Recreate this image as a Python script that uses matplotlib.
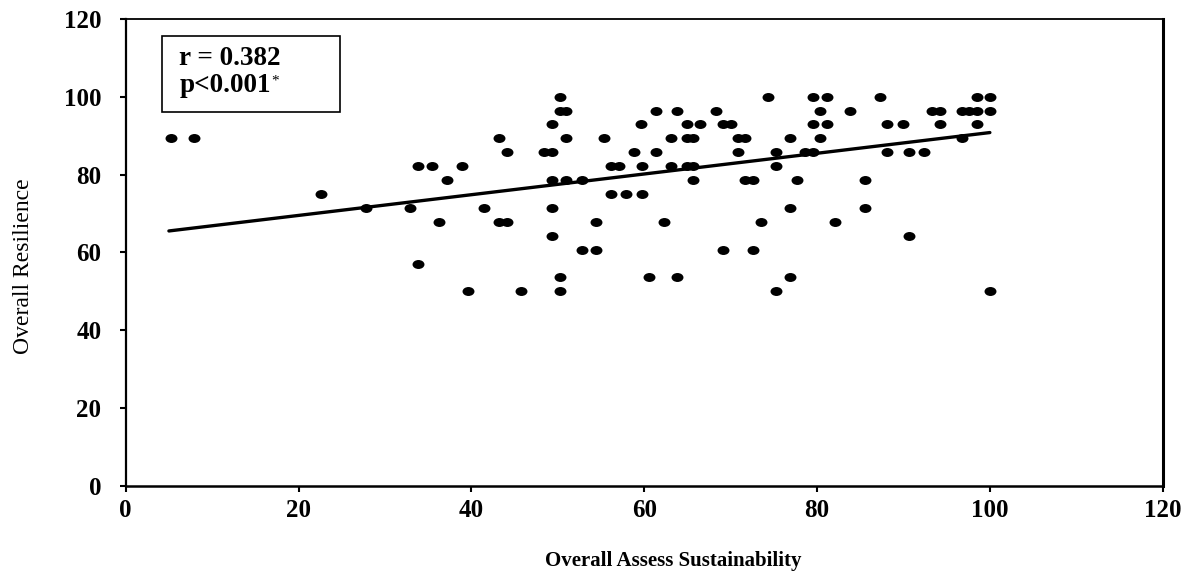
import matplotlib
matplotlib.use("Agg")
import matplotlib.pyplot as plt
import numpy as np
from matplotlib.path import Path
from matplotlib.patches import Rectangle

# ---- data ----
sustainability = [
    5.2, 7.9, 22.6, 27.8, 32.9, 33.8, 35.5, 38.9, 37.2, 36.3, 33.8, 39.6,
    41.5, 43.2, 44.1, 43.2, 44.1, 45.8, 50.2, 50.2, 51.0, 49.3, 51.0, 48.4,
    49.3, 49.3, 51.0, 52.8, 49.3, 49.3, 50.2, 50.2, 55.3, 56.2, 57.1, 56.2,
    57.9, 59.7, 54.4, 52.8, 54.4, 59.6, 58.8, 59.7, 61.4, 61.4, 63.1, 63.1,
    62.3, 60.5, 63.8, 63.8, 68.3, 64.9, 66.5, 69.1, 70.1, 64.9, 65.7, 70.9,
    71.7, 70.9, 64.9, 65.7, 65.7, 71.7, 72.6, 69.1, 72.6, 73.5, 74.3, 75.2,
    75.2, 75.2, 76.9, 76.9, 76.9, 77.7, 78.6, 79.5, 79.5, 81.2, 80.4, 79.5,
    81.2, 80.4, 83.8, 82.1, 85.5, 85.5, 87.3, 88.1, 89.9, 88.1, 90.7, 90.7,
    92.4, 93.3, 94.2, 94.2, 96.8, 96.8, 97.6, 98.5, 100.0, 98.5, 100.0, 98.5,
    100.0,
]
resilience = [
    89.3, 89.3, 75.0, 71.4, 71.4, 82.1, 82.1, 82.1, 78.6, 67.9, 57.1, 50.0,
    71.4, 89.3, 85.7, 67.9, 67.9, 50.0, 100.0, 96.4, 96.4, 92.9, 89.3, 85.7,
    85.7, 78.6, 78.6, 78.6, 71.4, 64.3, 53.6, 50.0, 89.3, 82.1, 82.1, 75.0,
    75.0, 75.0, 67.9, 60.7, 60.7, 92.9, 85.7, 82.1, 96.4, 85.7, 89.3, 82.1,
    67.9, 53.6, 96.4, 53.6, 96.4, 92.9, 92.9, 92.9, 92.9, 89.3, 89.3, 89.3,
    89.3, 85.7, 82.1, 82.1, 78.6, 78.6, 78.6, 60.7, 60.7, 67.9, 100.0, 85.7,
    82.1, 50.0, 89.3, 71.4, 53.6, 78.6, 85.7, 85.7, 100.0, 100.0, 96.4, 92.9,
    92.9, 89.3, 96.4, 67.9, 78.6, 71.4, 100.0, 92.9, 92.9, 85.7, 85.7, 64.3,
    85.7, 96.4, 96.4, 92.9, 89.3, 96.4, 96.4, 96.4, 96.4, 100.0, 100.0, 92.9,
    50.0,
]
fit_x = [5.0, 100.0]
fit_y = [65.5, 90.8]

x_ticks = [0, 20, 40, 60, 80, 100, 120]
y_ticks = [0, 20, 40, 60, 80, 100, 120]
stats_r = "r = 0.382"
stats_p = "p<0.001"
x_title = "Overall Assess Sustainability"
y_title = "Overall Resilience"

# ---- figure ----
W, H = 1187, 575
fig = plt.figure(figsize=(W / 100, H / 100), dpi=100)
L, R, B, T = 125.7, 1162.7, 485.7, 19.0
ax = fig.add_axes([L / W, 1 - B / H, (R - L) / W, (B - T) / H])

serif = ["Liberation Serif", "DejaVu Serif"]

# ellipse marker (slightly wider than tall)
uc = Path.unit_circle()
ell = Path(uc.vertices * np.array([1.0, 0.75]), uc.codes)

ax.scatter(sustainability, resilience, marker=ell, s=74, c="black",
           linewidths=0, zorder=3)
ax.plot(fit_x, fit_y, color="black", lw=2.4, solid_capstyle="round", zorder=4)

ax.set_xlim(0, 120)
ax.set_ylim(0, 120)
ax.set_xticks(x_ticks)
ax.set_yticks(y_ticks)
ax.set_xticklabels([str(v) for v in x_ticks], fontfamily=serif,
                   fontweight="bold", fontsize=18)
ax.set_yticklabels([str(v) for v in y_ticks], fontfamily=serif,
                   fontweight="bold", fontsize=18)
ax.tick_params(axis="x", direction="out", length=4.5, width=1.5, pad=5)
ax.tick_params(axis="y", direction="out", length=4.5, width=1.5, pad=13)

for side, lw in [("left", 1.6), ("bottom", 1.8), ("top", 1.3), ("right", 2.2)]:
    ax.spines[side].set_linewidth(lw)
    ax.spines[side].set_color("black")

ax.set_xlabel(x_title, fontfamily=serif, fontweight="bold", fontsize=15)
ax.xaxis.set_label_coords((673.5 - L) / (R - L), (B - 561) / (B - T))
ax.xaxis.label.set_verticalalignment("center")
ax.set_ylabel(y_title, fontfamily=serif, fontweight="normal", fontsize=17)
ax.yaxis.set_label_coords((23 - L) / (R - L), (B - 266) / (B - T))
ax.yaxis.label.set_verticalalignment("center")

# statistics box
ax.add_patch(Rectangle((4.17, 96.0), 20.6, 19.6, fill=False, ec="black",
                       lw=1.2, zorder=5))
ax.text(6.2, 108.2, stats_r, fontfamily=serif, fontweight="bold",
        fontsize=19.5, va="baseline", ha="left", zorder=6)
tp = ax.text(6.2, 101.3, stats_p, fontfamily=serif, fontweight="bold",
             fontsize=19.5, va="baseline", ha="left", zorder=6)
ax.annotate("*", xy=(1.0, 1.0), xycoords=tp, xytext=(0, -1),
            textcoords="offset points", fontfamily=serif, fontsize=11,
            ha="left", va="top", zorder=6)

fig.savefig("out.png", dpi=100)
